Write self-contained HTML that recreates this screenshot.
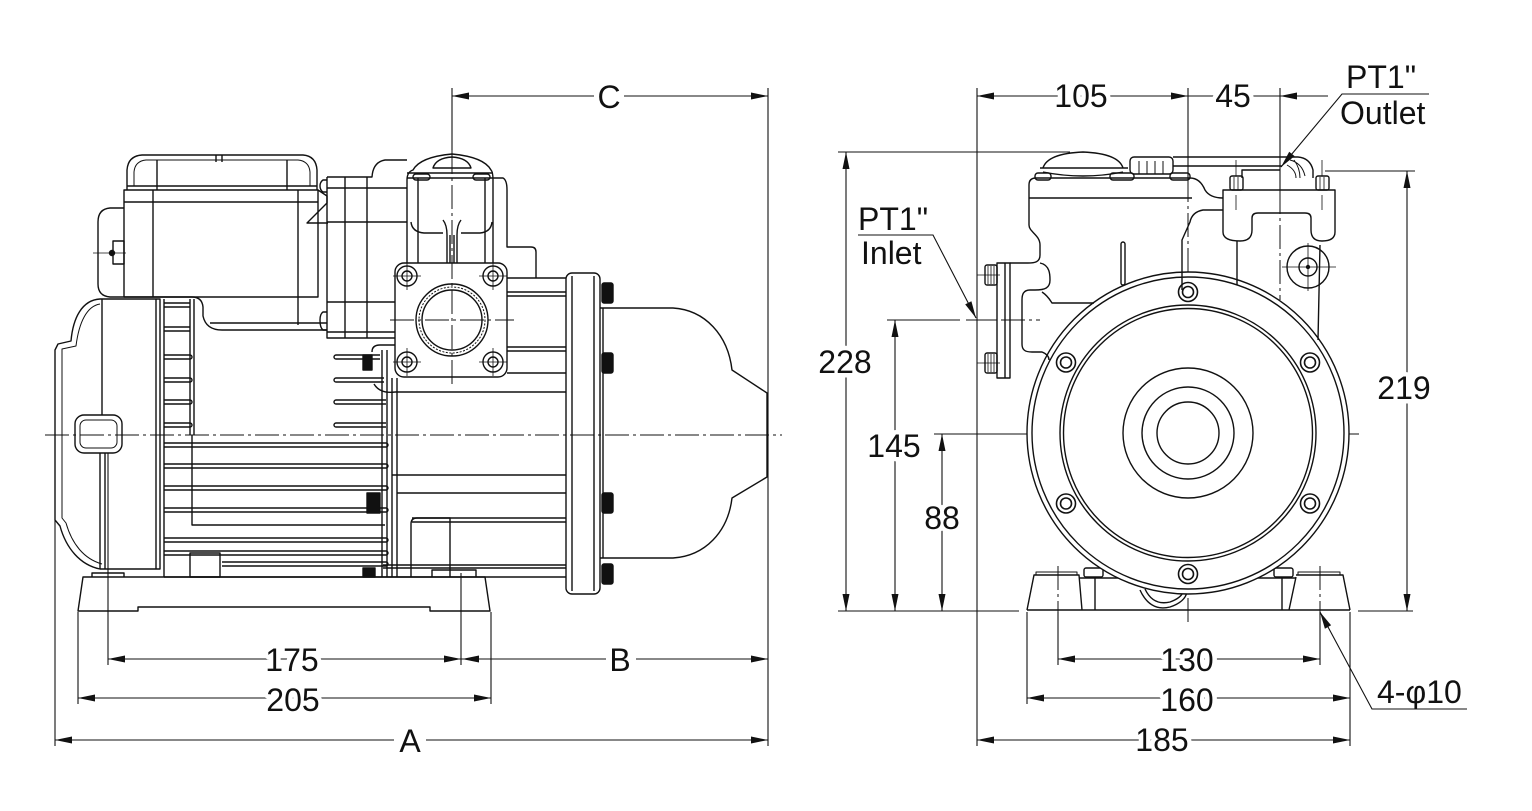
<!DOCTYPE html>
<html><head><meta charset="utf-8"><style>
html,body{margin:0;padding:0;background:#fff;}
svg{display:block}
text{font-family:"Liberation Sans",sans-serif;font-size:32px;fill:#111;stroke:#fff;stroke-width:9px;paint-order:stroke;stroke-linejoin:round}
</style></head><body>
<svg xmlns="http://www.w3.org/2000/svg" width="1532" height="811" viewBox="0 0 1532 811">
<rect width="1532" height="811" fill="#fff"/>

<!-- ============ CENTER LINES ============ -->
<g fill="none" stroke="#111" stroke-width="1" stroke-dasharray="24 4 3 4">
<line x1="45" y1="435" x2="782" y2="435"/>
<line x1="452" y1="150" x2="452" y2="388"/>
<line x1="390" y1="320" x2="514" y2="320"/>
<line x1="1188" y1="178" x2="1188" y2="622"/>
<line x1="1020" y1="434" x2="1362" y2="434"/>
<line x1="1280" y1="190" x2="1280" y2="300"/>
<line x1="966" y1="320" x2="1040" y2="320"/>
<line x1="1058" y1="566" x2="1058" y2="612"/>
<line x1="1320" y1="566" x2="1320" y2="612"/>
</g>

<!-- ============ LEFT VIEW ============ -->
<g fill="none" stroke="#111" stroke-width="1.4" stroke-linejoin="round">
<!-- base -->
<path d="M83,577 L485,577 L490,611 L430,611 L430,607 L138,607 L138,611 L78,611 Z"/>
<path d="M92,577 V573 H124 V577 M432,577 V570 H476 V577"/>
<!-- fan cover -->
<path d="M160,299 H100 C82,300 73,318 71,341 L58,344 L55,350 V520 L60,526 C66,548 80,565 100,569 H160 Z"/>
<path d="M100,304 C87,306 79,322 76,346 L62,349 V518 L66,523 C72,544 84,559 102,564" stroke-width="1"/>
<path d="M102,299 V415 M100,453 V569 M105,453 V569 M156,299 V569 M164,299 V577"/>
<rect x="75" y="415" width="47" height="38" rx="9"/>
<rect x="80" y="420" width="37" height="28" rx="6" stroke-width="1"/>
<!-- fins upper left -->
<path d="M190,299 V435 M194,299 V435"/>
<path d="M164,303 H190 M164,307 H190 M164,327 H190 M164,331 H190"/>
<path d="M164,355 H190 A2,2 0 0 1 190,359 H164 M164,378 H190 A2,2 0 0 1 190,382 H164 M164,400 H190 A2,2 0 0 1 190,404 H164 M164,423 H190 A2,2 0 0 1 190,427 H164"/>
<!-- fins upper right -->
<path d="M380,355 H336 A2,2 0 0 0 336,359 H380 M384,378 H336 A2,2 0 0 0 336,382 H384 M386,400 H336 A2,2 0 0 0 336,404 H386 M386,423 H336 A2,2 0 0 0 336,427 H386"/>
<!-- fins lower -->
<path d="M164,443 H386 A2,2 0 0 1 386,447 H164 M164,464 H386 A2,2 0 0 1 386,468 H164 M164,486 H386 A2,2 0 0 1 386,490 H164 M164,508 H386 A2,2 0 0 1 386,512 H164 M164,538 H386 A2,2 0 0 1 386,542 H164 M164,551 H386 A2,2 0 0 1 386,555 H164 M222,562 H386 A2,2 0 0 1 386,566 H222"/>
<path d="M192,435 V525 H385"/>
<rect x="190" y="553" width="30" height="24"/>
<path d="M164,577 H566"/>
<path d="M382,350 V577 M387,350 V577 M392,378 V577 M397,378 V577"/>
<!-- terminal box lid -->
<path d="M127,190 V170 Q128,156 142,155 H303 Q316,156 317,170 V190"/>
<path d="M134,186 V172 Q135,161 146,160 H298 Q309,161 310,172 V186" stroke-width="1"/>
<path d="M157,160 V190 M287,160 V190 M216,155 V162 M222,155 V162 M127,186 H317"/>
<!-- terminal box body -->
<rect x="124" y="190" width="194" height="107"/>
<path d="M124,202 H318 M153,190 V297 M298,190 V325"/>
<path d="M318,190 L327,196 V203 L307,223 H328"/>
<path d="M124,297 H192 Q202,297 203,307 V316 Q206,330 222,330 H327"/>
<path d="M210,323 H327"/>
<!-- cable gland -->
<path d="M124,208 H110 Q98,209 98,222 V284 Q98,296 110,297 H124"/>
<rect x="113" y="241" width="11" height="23"/>
<circle cx="112" cy="253" r="2.5" fill="#111"/>
<line x1="93" y1="253" x2="126" y2="253" stroke-width="0.8"/>
<!-- adapter housing -->
<path d="M327,177 H372 Q373,162 385,160 H407"/>
<path d="M327,177 V338 H395"/>
<path d="M327,188 H407 M327,222 H407 M327,302 H395 M327,332 H395 M345,177 V338 M367,177 V338"/>
<path d="M327,180 H323 Q320,182 320,186 Q320,190 323,192 H327 M327,312 H323 Q320,314 320,320 Q320,328 323,330 H327"/>
<rect x="363" y="355" width="9" height="15" fill="#111"/>
<path d="M372,352 Q372,345 380,345 H395 M374,384 Q380,394 395,392"/>
<!-- pump head -->
<path d="M407,263 V180 Q407,172 413,170 Q420,157 452,154 Q484,157 491,170 Q493,172 493,180 V263"/>
<path d="M433,168 Q436,158 452,157 Q468,158 471,168 Z"/>
<path d="M407,173 H493 M407,178 H493"/>
<rect x="413" y="174" width="17" height="6" rx="3"/>
<rect x="473" y="174" width="17" height="6" rx="3"/>
<path d="M418,178 V263 M485,178 V263"/>
<path d="M411,222 Q412,232 424,233 H443 M461,233 H480 Q491,232 492,222"/>
<path d="M443,220 Q447,225 447,235 V263 M461,220 Q457,225 457,235 V263 M450,235 V263 M454,235 V263"/>
<path d="M493,178 H503 Q507,180 507,190 V247 H531 Q536,247 536,252 V278"/>
<!-- flange square -->
<rect x="395" y="263" width="112" height="114" rx="9"/>
<g>
<circle cx="407" cy="276" r="10"/><circle cx="407" cy="276" r="5"/>
<circle cx="493" cy="276" r="10"/><circle cx="493" cy="276" r="5"/>
<circle cx="407" cy="362" r="10"/><circle cx="407" cy="362" r="5"/>
<circle cx="493" cy="362" r="10"/><circle cx="493" cy="362" r="5"/>
</g>
<path d="M393,276 H421 M407,262 V290 M479,276 H507 M493,262 V290 M393,362 H421 M407,348 V376 M479,362 H507 M493,348 V376" stroke-width="0.8"/>
<circle cx="452" cy="320" r="36"/>
<circle cx="452" cy="320" r="33" stroke-width="1" stroke-dasharray="2 1.5"/>
<circle cx="452" cy="320" r="30"/>
<!-- pump casing -->
<path d="M507,278 H566 M507,292 H566 M507,296 H566 M507,347 H566 M507,351 H566 M507,373 H566 M395,392 H566"/>
<path d="M392,475 H566 M397,493 H566 M412,518 H566 M412,522 H566 M383,565 H566 M383,568 H566"/>
<path d="M411,577 V524 Q411,518 417,518 H450 V577"/>
<rect x="367" y="493" width="13" height="20" fill="#111"/>
<rect x="363" y="568" width="12" height="9" fill="#111"/>
<!-- flange plate -->
<rect x="566" y="273" width="34" height="321" rx="6"/>
<path d="M572,276 V591 M594,276 V591"/>
<rect x="602" y="283" width="11" height="20" rx="2" fill="#111"/>
<rect x="602" y="353" width="11" height="20" rx="2" fill="#111"/>
<rect x="602" y="493" width="11" height="20" rx="2" fill="#111"/>
<rect x="602" y="564" width="11" height="20" rx="2" fill="#111"/>
<!-- motor end dome -->
<path d="M600,308 H673 C705,310 728,335 732,370 L767,393 V477 L732,498 C728,532 705,556 673,558 H600"/>
<path d="M603,308 V558"/>
</g>

<!-- ============ RIGHT VIEW ============ -->
<g fill="none" stroke="#111" stroke-width="1.4" stroke-linejoin="round">
<!-- base -->
<path d="M1027,610 L1034,575 H1079 L1082,610 M1296,575 H1343 L1350,610 M1296,577 L1289,610 M1027,610 H1350"/>
<path d="M1079,578 H1296 M1095,578 V610 M1282,578 V610"/>
<path d="M1036,575 V572 H1077 V575 M1298,575 V572 H1340 V575" stroke-width="1"/>
<rect x="1084" y="568" width="19" height="9" rx="2"/>
<rect x="1274" y="568" width="19" height="9" rx="2"/>
<path d="M1140,590 Q1150,612 1170,607 Q1185,602 1187,592 M1145,589 Q1153,606 1170,602 Q1181,598 1183,592"/>
<!-- big circles -->
<circle cx="1188" cy="433" r="161" fill="#fff"/>
<circle cx="1188" cy="433" r="156"/>
<circle cx="1188" cy="433" r="128"/>
<circle cx="1188" cy="433" r="124.5"/>
<circle cx="1188" cy="433" r="65"/>
<circle cx="1188" cy="433" r="46"/>
<circle cx="1188" cy="433" r="31"/>
<g stroke-width="1.6">
<circle cx="1188" cy="292" r="9.5"/><circle cx="1188" cy="292" r="5.5"/>
<circle cx="1310" cy="362.5" r="9.5"/><circle cx="1310" cy="362.5" r="5.5"/>
<circle cx="1066" cy="362.5" r="9.5"/><circle cx="1066" cy="362.5" r="5.5"/>
<circle cx="1066" cy="503.5" r="9.5"/><circle cx="1066" cy="503.5" r="5.5"/>
<circle cx="1310" cy="503.5" r="9.5"/><circle cx="1310" cy="503.5" r="5.5"/>
<circle cx="1188" cy="574" r="9.5"/><circle cx="1188" cy="574" r="5.5"/>
</g>
<!-- top dome & cap -->
<path d="M1043,168 C1046,158 1060,153 1083,152 C1106,153 1120,158 1123,168"/>
<path d="M1040,168 H1128 M1043,172 Q1083,180 1123,172"/>
<rect x="1130" y="157" width="43" height="17" rx="4"/>
<path d="M1139,161 V174 M1147,161 V174 M1155,161 V174 M1163,161 V174" stroke-width="1"/>
<path d="M1173,157 H1298 Q1310,158 1313,170 V178 M1173,166 H1282"/>
<path d="M1290,160 Q1302,163 1305,176 M1294,160 Q1300,168 1300,178 M1287,165 Q1296,170 1296,178" stroke-width="1"/>
<rect x="1035" y="173" width="16" height="7" rx="3"/>
<rect x="1110" y="173" width="24" height="7" rx="3"/>
<rect x="1170" y="173" width="20" height="7" rx="3"/>
<!-- body -->
<path d="M1029,198 V185 Q1029,178 1036,178 H1190 Q1200,178 1205,190 Q1210,198 1223,198"/>
<path d="M1029,198 H1192"/>
<path d="M1029,198 V225 C1029,232 1040,235 1040,245 V255 C1040,262 1035,263 1028,263 H1010"/>
<path d="M1040,263 C1050,265 1050,275 1050,280 C1050,288 1045,290 1035,290 H1030 C1023,290 1022,295 1022,300 V344 C1022,350 1025,352 1032,352 H1042 C1047,354 1049,357 1049,360"/>
<path d="M1042,292 C1048,296 1050,300 1052,303 H1094"/>
<rect x="1121" y="242" width="4" height="43" rx="2"/>
<path d="M1223,210 H1203 Q1192,212 1190,222 L1182,240 V290"/>
<!-- outlet block -->
<path d="M1223,190 H1335 V232 Q1335,241 1322,241 Q1311,241 1311,230 V218 Q1311,213 1305,213 H1258 Q1252,213 1252,218 V230 Q1252,241 1240,241 Q1223,241 1223,232 Z"/>
<rect x="1230" y="176" width="13" height="14" rx="2"/>
<rect x="1316" y="176" width="13" height="14" rx="2"/>
<path d="M1234,177 V190 M1238,177 V190 M1320,177 V190 M1324,177 V190" stroke-width="0.8"/>
<path d="M1236,160 V176 M1322,160 V176 M1236,195 V210 M1322,195 V210" stroke-width="0.8"/>
<path d="M1242,178 V170 H1280"/>
<path d="M1237,241 V285 M1320,245 L1318,340"/>
<circle cx="1308" cy="267" r="21"/>
<circle cx="1308" cy="267" r="9"/>
<circle cx="1308" cy="267" r="1.5" fill="#111"/>
<path d="M1282,267 H1336 M1308,243 V291" stroke-width="0.8"/>
<!-- inlet flange -->
<rect x="997" y="263" width="13" height="115"/>
<path d="M1005,263 V378"/>
<rect x="985" y="265" width="12" height="20" rx="2"/>
<rect x="985" y="353" width="12" height="20" rx="2"/>
<path d="M988,266 V284 M991,266 V284 M994,266 V284 M988,354 V372 M991,354 V372 M994,354 V372" stroke-width="0.8"/>
<path d="M977,275 H1000 M977,363 H1000" stroke-width="0.8"/>
</g>

<!-- ============ DIMENSIONS ============ -->
<g fill="none" stroke="#111" stroke-width="1.1">
<!-- left view extension lines -->
<path d="M55,520 V746 M78,612 V704 M108,453 V665 M461,573 V665 M491,612 V704 M768,88 V746 M452,88 V150"/>
<!-- left dims -->
<path d="M452,96 H768 M108,659 H768 M78,698 H491 M55,740 H768"/>
<!-- right view extension lines -->
<path d="M977,88 V746 M1188,88 V178 M1280,88 V190 M1027,612 V704 M1350,612 V746 M1058,612 V665 M1320,612 V665"/>
<path d="M838,152 H1070 M887,320 H960 M934,434 H1020 M1325,171 H1415 M838,611 H1019 M1358,611 H1413"/>
<path d="M975,320 H985 M990,320 H996" />
<!-- right dims -->
<path d="M977,96 H1328 M846,152 V611 M895,320 V611 M942,434 V611 M1407,171 V611 M1058,659 H1320 M1027,698 H1350 M977,740 H1350"/>
<!-- leaders -->
<path d="M1429,94 H1342 L1281,167"/>
<path d="M858,235 H933 L976,318"/>
<path d="M1467,709 H1372 L1320,612"/>
</g>
<g fill="#111" stroke="none">
<!-- C -->
<polygon points="452,96 469,92.5 469,99.5"/><polygon points="768,96 751,92.5 751,99.5"/>
<!-- 175 -->
<polygon points="108,659 125,655.5 125,662.5"/><polygon points="461,659 444,655.5 444,662.5"/>
<!-- B -->
<polygon points="462,659 479,655.5 479,662.5"/><polygon points="768,659 751,655.5 751,662.5"/>
<!-- 205 -->
<polygon points="78,698 95,694.5 95,701.5"/><polygon points="491,698 474,694.5 474,701.5"/>
<!-- A -->
<polygon points="55,740 72,736.5 72,743.5"/><polygon points="768,740 751,736.5 751,743.5"/>
<!-- 105 -->
<polygon points="977,96 994,92.5 994,99.5"/><polygon points="1188,96 1171,92.5 1171,99.5"/>
<!-- 45 -->
<polygon points="1280,96 1297,92.5 1297,99.5"/>
<!-- 228 -->
<polygon points="846,152 842.5,169 849.5,169"/><polygon points="846,611 842.5,594 849.5,594"/>
<!-- 145 -->
<polygon points="895,320 891.5,337 898.5,337"/><polygon points="895,611 891.5,594 898.5,594"/>
<!-- 88 -->
<polygon points="942,434 938.5,451 945.5,451"/><polygon points="942,611 938.5,594 945.5,594"/>
<!-- 219 -->
<polygon points="1407,171 1403.5,188 1410.5,188"/><polygon points="1407,611 1403.5,594 1410.5,594"/>
<!-- 130 -->
<polygon points="1058,659 1075,655.5 1075,662.5"/><polygon points="1320,659 1303,655.5 1303,662.5"/>
<!-- 160 -->
<polygon points="1027,698 1044,694.5 1044,701.5"/><polygon points="1350,698 1333,694.5 1333,701.5"/>
<!-- 185 -->
<polygon points="977,740 994,736.5 994,743.5"/><polygon points="1350,740 1333,736.5 1333,743.5"/>
<!-- leaders arrows -->
<polygon points="1281,167 1294.6,156.1 1289.2,151.7"/>
<polygon points="976,318 971.4,301.2 965.2,304.4"/>
<polygon points="1320,612 1331.1,625.3 1324.9,628.7"/>
</g>

<!-- label gaps -->
<g fill="#fff" stroke="none">
<rect x="594" y="86" width="30" height="22"/>
<rect x="606" y="649" width="30" height="22"/>
<rect x="394" y="730" width="32" height="22"/>
</g>

<!-- ============ LABELS ============ -->
<text x="609" y="108" text-anchor="middle">C</text>
<text x="292" y="671" text-anchor="middle">175</text>
<text x="620" y="671" text-anchor="middle">B</text>
<text x="293" y="711" text-anchor="middle">205</text>
<text x="410" y="752" text-anchor="middle">A</text>
<text x="1081" y="107" text-anchor="middle">105</text>
<text x="1233" y="107" text-anchor="middle">45</text>
<text x="1346" y="88" style="stroke:none">PT1"</text>
<text x="1340" y="124" style="stroke:none">Outlet</text>
<text x="858" y="230" style="stroke:none">PT1"</text>
<text x="861" y="264" style="stroke:none">Inlet</text>
<text x="845" y="373" text-anchor="middle">228</text>
<text x="894" y="457" text-anchor="middle">145</text>
<text x="942" y="529" text-anchor="middle">88</text>
<text x="1404" y="399" text-anchor="middle">219</text>
<text x="1187" y="671" text-anchor="middle">130</text>
<text x="1187" y="711" text-anchor="middle">160</text>
<text x="1162" y="751" text-anchor="middle">185</text>
<text x="1377" y="703" style="stroke:none">4-φ10</text>
</svg>
</body></html>
